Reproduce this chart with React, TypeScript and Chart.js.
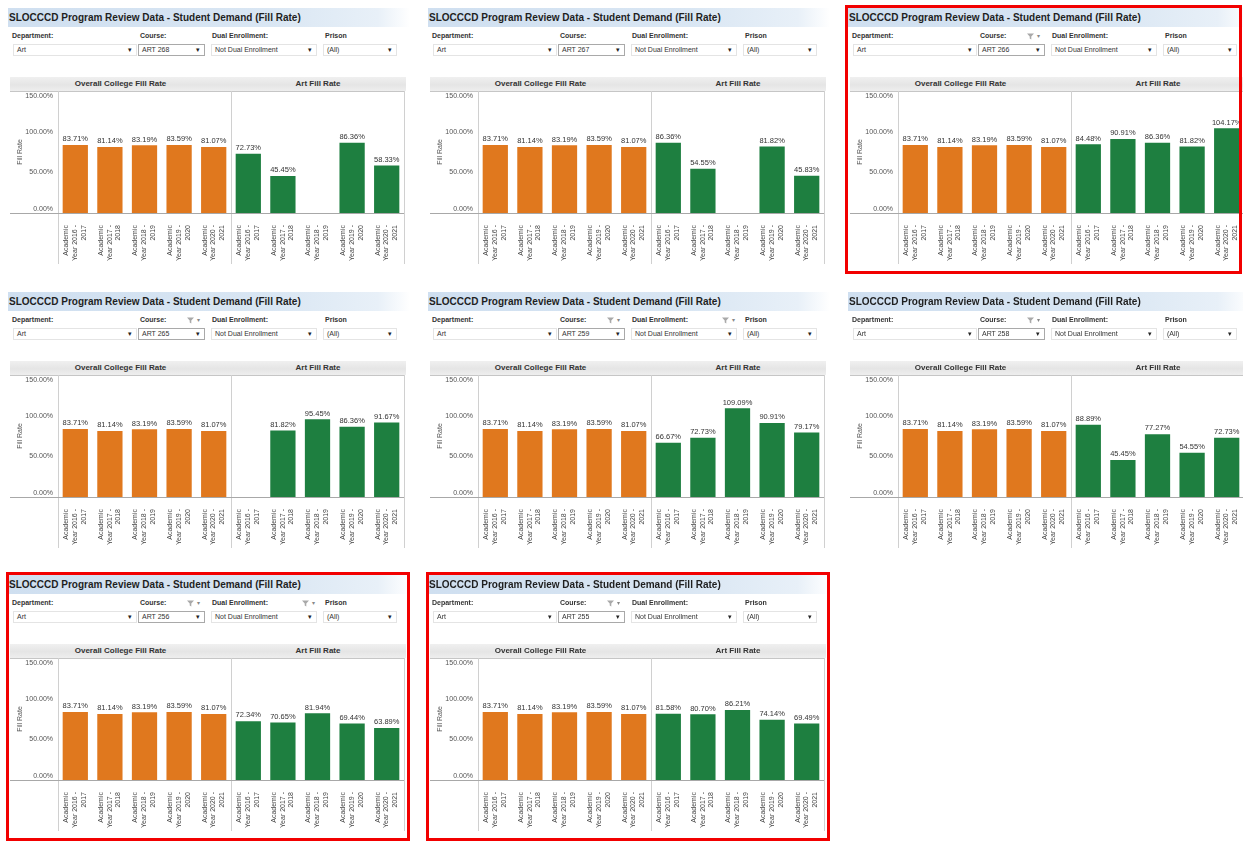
import React, { useEffect, useRef } from "react";
import { Chart, registerables } from "chart.js";

Chart.register(...registerables);

// Academic years shown on the x axis of both panes
const yearLabels: string[][] = [
  ["Academic", "Year 2016 -", "2017"],
  ["Academic", "Year 2017 -", "2018"],
  ["Academic", "Year 2018 -", "2019"],
  ["Academic", "Year 2019 -", "2020"],
  ["Academic", "Year 2020 -", "2021"],
];

// Overall college fill rate (%), identical for every course view
const collegeFillRate = [83.71, 81.14, 83.19, 83.59, 81.07];

// Art fill rate (%) per course; null = no sections offered that year
const art268 = [72.73, 45.45, null, 86.36, 58.33];
const art267 = [86.36, 54.55, null, 81.82, 45.83];
const art266 = [84.48, 90.91, 86.36, 81.82, 104.17];
const art265 = [null, 81.82, 95.45, 86.36, 91.67];
const art259 = [66.67, 72.73, 109.09, 90.91, 79.17];
const art258 = [88.89, 45.45, 77.27, 54.55, 72.73];
const art256 = [72.34, 70.65, 81.94, 69.44, 63.89];
const art255 = [81.58, 80.7, 86.21, 74.14, 69.49];

const courseNames = ["ART 268", "ART 267", "ART 266", "ART 265", "ART 259", "ART 258", "ART 256", "ART 255"];
const courseRates = [art268, art267, art266, art265, art259, art258, art256, art255];

const yTicks = [0, 50, 100, 150];

const FONT = "'Liberation Sans', Arial, Helvetica, sans-serif";
const ORANGE = "#e0781e";
const GREEN = "#1e7f40";

const fmtPct = (v: number) => v.toFixed(2) + "%";

// Draws pane borders, y tick labels, the axis title and bar value labels
const panePlugin = {
  id: "panes",
  afterDraw(chart: any) {
    const { ctx, chartArea: a, scales } = chart;
    const x = scales.x;
    const y = scales.y;
    ctx.save();
    ctx.lineWidth = 1;

    // header underline
    ctx.strokeStyle = "#c6c6c6";
    ctx.beginPath();
    ctx.moveTo(2, Math.round(a.top) + 0.5);
    ctx.lineTo(a.right, Math.round(a.top) + 0.5);
    ctx.stroke();

    // pane borders: left, split between the two panes, right
    const split = (x.getPixelForValue(4) + x.getPixelForValue(5)) / 2;
    ctx.strokeStyle = "#d0d0d0";
    [a.left, split, a.right].forEach((px: number) => {
      const cx = Math.round(px) + 0.5;
      ctx.beginPath();
      ctx.moveTo(cx, a.top);
      ctx.lineTo(cx, chart.height - 6);
      ctx.stroke();
    });

    // zero baseline
    ctx.strokeStyle = "#a8a8a8";
    ctx.beginPath();
    ctx.moveTo(2, Math.round(a.bottom) + 0.5);
    ctx.lineTo(a.right, Math.round(a.bottom) + 0.5);
    ctx.stroke();

    // y tick labels, kept inside the pane at the ends
    ctx.font = `7px ${FONT}`;
    ctx.fillStyle = "#555";
    ctx.textAlign = "right";
    yTicks.forEach((v) => {
      const py = y.getPixelForValue(v);
      if (v === y.max) {
        ctx.textBaseline = "top";
        ctx.fillText(fmtPct(v), a.left - 5, py + 2);
      } else if (v === y.min) {
        ctx.textBaseline = "bottom";
        ctx.fillText(fmtPct(v), a.left - 5, py);
      } else {
        ctx.textBaseline = "middle";
        ctx.fillText(fmtPct(v), a.left - 5, py);
      }
    });

    // axis title
    ctx.save();
    ctx.translate(12, (a.top + a.bottom) / 2);
    ctx.rotate(-Math.PI / 2);
    ctx.textAlign = "center";
    ctx.textBaseline = "middle";
    ctx.fillStyle = "#555";
    ctx.fillText("Fill Rate", 0, 0);
    ctx.restore();

    // value labels above bars
    ctx.fillStyle = "#333";
    ctx.textAlign = "center";
    ctx.textBaseline = "bottom";
    ctx.font = `7.5px ${FONT}`;
    chart.data.datasets.forEach((ds: any, di: number) => {
      const meta = chart.getDatasetMeta(di);
      meta.data.forEach((el: any, i: number) => {
        const v = ds.data[i];
        if (v == null) return;
        ctx.fillText(fmtPct(v), el.x, el.y - 2);
      });
    });
    ctx.restore();
  },
};

function FillRateChart({ artRates }: { artRates: (number | null)[] }) {
  const ref = useRef<HTMLCanvasElement>(null);
  useEffect(() => {
    const empty = yearLabels.map(() => null);
    const chart = new Chart(ref.current as HTMLCanvasElement, {
      type: "bar",
      data: {
        labels: [...yearLabels, ...yearLabels],
        datasets: [
          {
            label: "Overall College Fill Rate",
            data: [...collegeFillRate, ...empty],
            backgroundColor: ORANGE,
            grouped: false,
            barPercentage: 0.73,
            categoryPercentage: 1,
          },
          {
            label: "Art Fill Rate",
            data: [...empty, ...artRates],
            backgroundColor: GREEN,
            grouped: false,
            barPercentage: 0.73,
            categoryPercentage: 1,
          },
        ],
      } as any,
      options: {
        animation: false,
        responsive: false,
        maintainAspectRatio: false,
        layout: { padding: { top: 3, right: 4, bottom: 0, left: 0 } },
        plugins: { legend: { display: false }, tooltip: { enabled: false } },
        scales: {
          x: {
            grid: { display: false },
            border: { display: false },
            ticks: {
              autoSkip: false,
              minRotation: 90,
              maxRotation: 90,
              padding: 4,
              labelOffset: -9,
              color: "#444",
              font: { family: FONT, size: 7, lineHeight: 1.25 },
            },
            afterFit: (s: any) => {
              s.height = 57;
              s.paddingLeft = 0;
              s.paddingRight = 0;
            },
          },
          y: {
            min: 0,
            max: 150,
            grid: { display: false },
            border: { display: false },
            ticks: { display: false },
            afterFit: (s: any) => {
              s.width = 50;
              s.paddingTop = 0;
              s.paddingBottom = 0;
            },
          },
        },
      } as any,
      plugins: [panePlugin],
    });
    return () => chart.destroy();
  }, [artRates]);
  return (
    <canvas
      ref={ref}
      width={400}
      height={182}
      style={{ position: "absolute", left: 8, top: 88, width: 400, height: 182 }}
    />
  );
}

function FunnelIcon({ left }: { left: number }) {
  return (
    <div style={{ position: "absolute", left, top: 32, height: 8, display: "flex", alignItems: "center", gap: 3 }}>
      <svg width="7" height="7" viewBox="0 0 7 7">
        <path d="M0 0.5 H7 L4.3 3.6 V6.5 L2.7 5.6 V3.6 Z" fill="#a9a9a9" />
      </svg>
      <span style={{ fontSize: 6, color: "#888", lineHeight: "8px" }}>▾</span>
    </div>
  );
}

function Dropdown({ left, width, text, strong }: { left: number; width: number; text: string; strong?: boolean }) {
  return (
    <div
      style={{
        position: "absolute",
        left,
        top: 44,
        width,
        height: 12,
        boxSizing: "border-box",
        border: `1px solid ${strong ? "#a9a9a9" : "#e4e4e4"}`,
        background: "#fff",
        fontSize: 7,
        lineHeight: "10px",
        color: "#333",
        paddingLeft: 3,
      }}
    >
      {text}
      <span style={{ position: "absolute", right: 4, top: 0, fontSize: 7, color: "#222" }}>▾</span>
    </div>
  );
}

const labelStyle: React.CSSProperties = {
  position: "absolute",
  top: 31,
  fontSize: 7,
  fontWeight: "bold",
  color: "#333",
  lineHeight: "9px",
  whiteSpace: "nowrap",
};

function Panel({ index }: { index: number }) {
  const col = index % 3;
  const row = Math.floor(index / 3);
  const left = col * 420;
  const top = [0, 284, 567][row];
  const highlighted = index === 2 || index === 6 || index === 7;
  const courseIcon = index >= 2;
  const dualIcon = index === 4 || index === 6;
  const boxWidth = col === 2 ? 397 : 404;

  return (
    <div style={{ position: "absolute", left, top, width: 420, height: 284, fontFamily: FONT }}>
      <div
        style={{
          position: "absolute",
          left: 8,
          top: 8,
          width: 402,
          height: 19,
          background: "linear-gradient(to right, #cfdff0 0%, #d9e6f3 65%, #e8f0f8 92%, #ffffff 100%)",
        }}
      />
      <div
        style={{
          position: "absolute",
          left: 9,
          top: 8,
          height: 19,
          lineHeight: "19px",
          fontSize: 10,
          fontWeight: "bold",
          color: "#1f1f1f",
          whiteSpace: "nowrap",
        }}
      >
        SLOCCCD Program Review Data - Student Demand (Fill Rate)
      </div>

      <div style={{ ...labelStyle, left: 12 }}>Department:</div>
      <div style={{ ...labelStyle, left: 140 }}>Course:</div>
      <div style={{ ...labelStyle, left: 212 }}>Dual Enrollment:</div>
      <div style={{ ...labelStyle, left: 325 }}>Prison</div>
      {courseIcon && <FunnelIcon left={187} />}
      {dualIcon && <FunnelIcon left={302} />}

      <Dropdown left={13} width={124} text="Art" />
      <Dropdown left={138} width={67} text={courseNames[index]} strong />
      <Dropdown left={211} width={106} text="Not Dual Enrollment" />
      <Dropdown left={323} width={74} text="(All)" />

      <div
        style={{
          position: "absolute",
          left: 10,
          top: 77,
          width: 396,
          height: 14,
          background: "linear-gradient(to bottom, #f0f0f0 0%, #e5e5e5 55%, #eeeeee 100%)",
        }}
      />
      <div
        style={{
          position: "absolute",
          left: 10,
          top: 77,
          width: 221,
          height: 14,
          lineHeight: "14px",
          textAlign: "center",
          fontSize: 8,
          fontWeight: "bold",
          color: "#333",
        }}
      >
        Overall College Fill Rate
      </div>
      <div
        style={{
          position: "absolute",
          left: 231,
          top: 77,
          width: 174,
          height: 14,
          lineHeight: "14px",
          textAlign: "center",
          fontSize: 8,
          fontWeight: "bold",
          color: "#333",
        }}
      >
        Art Fill Rate
      </div>

      <FillRateChart artRates={courseRates[index]} />

      {highlighted && (
        <div
          style={{
            position: "absolute",
            left: col === 2 ? 5 : 6,
            top: 5,
            width: boxWidth,
            height: 269,
            boxSizing: "border-box",
            border: "3px solid #f20000",
            pointerEvents: "none",
          }}
        />
      )}
    </div>
  );
}

export default function App() {
  return (
    <div
      style={{
        position: "fixed",
        left: 0,
        top: 0,
        width: 1243,
        height: 841,
        overflow: "hidden",
        background: "#ffffff",
      }}
    >
      {courseNames.map((_, i) => (
        <Panel key={i} index={i} />
      ))}
    </div>
  );
}
